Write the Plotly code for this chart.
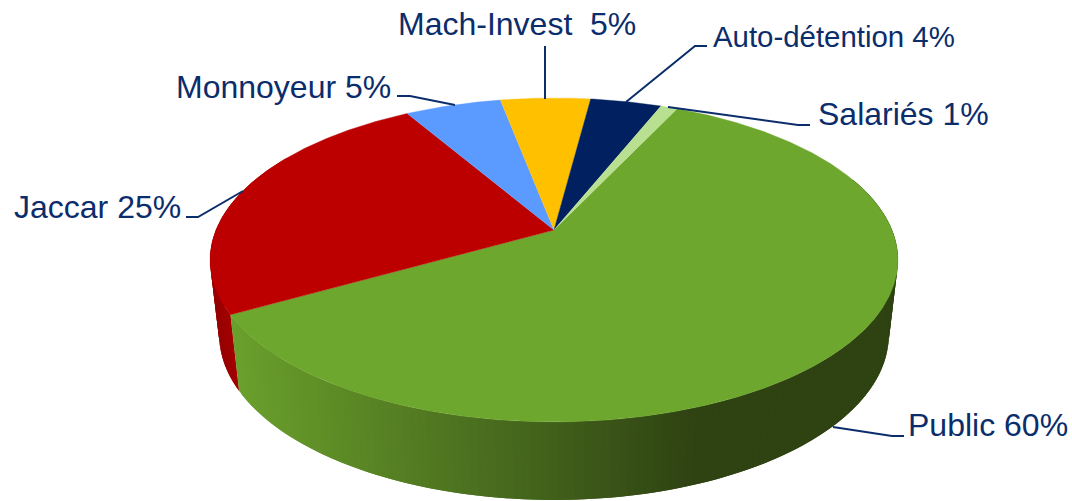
import numpy as np
import plotly.graph_objects as go

# Data (clockwise from the start angle)
labels = ["Public", "Jaccar", "Monnoyeur", "Mach-Invest\u00a0", "Auto-détention", "Salariés"]
shown = [60, 25, 5, 5, 4, 1]                    # percentages printed on the labels
values = [59.8, 24.8, 5.4, 5.05, 4.0, 0.95]     # slice sizes as measured on the picture
colors = ["#6DA72D", "#BC0000", "#5B9BFF", "#FFC000", "#002060", "#B9E090"]

TEXT = "#0B2D6B"
START = 25.2  # clock degrees at which the first slice begins
K = 0.185     # perspective strength
TOP = dict(x=554, y=230, a=338, b=156.4)
BOT = dict(x=554, y=304.5, a=329, b=159.3)


def project(theta, c):
    t = np.radians(theta)
    u, v = np.sin(t), np.cos(t)
    w = 1 + K * v
    return c["x"] + c["a"] * u / w, c["y"] - c["b"] * v / w


def mix(c1, c2, f):
    f = min(max(f, 0), 1)
    return "rgb(%d,%d,%d)" % tuple(round(a + (b - a) * f) for a, b in zip(c1, c2))


fig = go.Figure()


def poly(xs, ys, color, lw=0.0):
    fig.add_trace(go.Scatter(
        x=list(xs), y=list(ys), mode="lines", fill="toself", fillcolor=color,
        line=dict(color=color, width=lw), hoverinfo="skip", showlegend=False))


edges = START + 3.6 * np.concatenate([[0], np.cumsum(values)])


def wall(t_from, t_to, colour_at):
    """Overlapping strips painted from t_to back to t_from, so no seams show."""
    n = int((t_to - t_from) / 1.25) + 1
    cuts = np.linspace(t_from, t_to, n + 1)
    for i in range(n - 1, -1, -1):
        # each strip runs under the next one painted, toward t_from
        a = np.linspace(t_from if i == 0 else cuts[i - 1], cuts[i + 1], 4)
        x0, y0 = project(a, TOP)
        x1, y1 = project(a[::-1], BOT)
        xm = float(project((cuts[i] + cuts[i + 1]) / 2, TOP)[0])
        poly(np.r_[x0, x1], np.r_[y0, y1], colour_at(xm))


wall(edges[1], 300, lambda x: mix((150, 0, 0), (172, 0, 0), (x - 214) / 24))
wall(70, edges[1], lambda x: mix((106, 160, 44), (46, 66, 18), (x - 232) / (700 - 232)))

# Top face
for i, color in enumerate(colors):
    a = np.linspace(edges[i], edges[i + 1], max(int(values[i] * 8), 8))
    x, y = project(a, TOP)
    poly(np.r_[TOP["x"], x], np.r_[TOP["y"], y], color, 0.4)

# Leader lines
leaders = [
    ([904, 892, 833], [436, 436, 427]),
    ([186, 198, 243], [217, 217, 191]),
    ([397, 410, 455], [96, 96, 105]),
    ([545, 545], [46, 99]),
    ([707, 695, 626], [46, 46, 102]),
    ([810, 798, 668], [125, 125, 107]),
]
for lx, ly in leaders:
    fig.add_trace(go.Scatter(x=lx, y=ly, mode="lines", line=dict(color=TEXT, width=2),
                             hoverinfo="skip", showlegend=False))

# Labels
label_pos = [(908, 425, 32), (14, 207, 32), (176, 87, 32), (398, 24, 32), (713, 36, 29.4), (818, 114, 32)]
for name, val, (px, py, size) in zip(labels, shown, label_pos):
    fig.add_annotation(x=px, y=py, text=f"{name} {val}%", showarrow=False,
                       xanchor="left", yanchor="middle", borderpad=0, borderwidth=0,
                       font=dict(family="Liberation Sans", size=size, color=TEXT))

fig.update_layout(
    width=1072, height=501, margin=dict(l=0, r=0, t=0, b=0),
    paper_bgcolor="white", plot_bgcolor="white", showlegend=False,
    xaxis=dict(range=[0, 1072], visible=False, fixedrange=True),
    yaxis=dict(range=[501, 0], visible=False, fixedrange=True),
)
fig.write_html("out.html", config={"displayModeBar": False},
               post_script="document.body.style.margin='0';document.documentElement.style.overflow='hidden';")
